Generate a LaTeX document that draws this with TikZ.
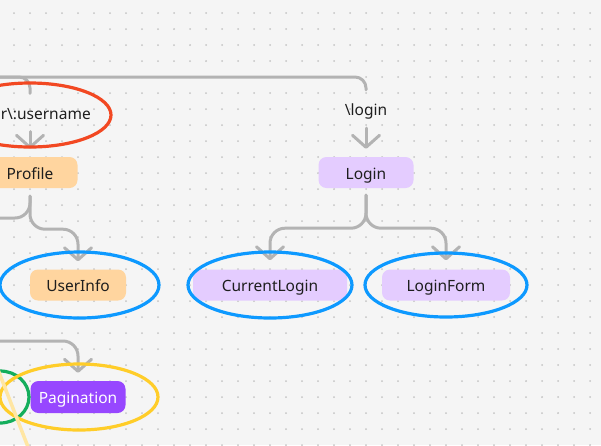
\documentclass[tikz,border=0pt]{standalone}
\usepackage{fontspec}
\setmainfont{Noto Sans}
\usetikzlibrary{arrows.meta,calc}

\definecolor{paper}{HTML}{F5F5F5}
\definecolor{griddot}{HTML}{C4C4C4}
\definecolor{wire}{HTML}{B3B3B3}
\definecolor{ink}{HTML}{1E1E1E}
\definecolor{peach}{HTML}{FFD59F}
\definecolor{lilac}{HTML}{E4CCFF}
\definecolor{violet}{HTML}{9747FF}
\definecolor{ringred}{HTML}{F24822}
\definecolor{ringblue}{HTML}{0D99FF}
\definecolor{ringyellow}{HTML}{FFCD29}
\definecolor{ringgreen}{HTML}{14AE5C}
\definecolor{paleyellow}{HTML}{FFE6A3}

\tikzset{
	label text/.style = {text=ink, font=\fontsize{15.5}{18}\selectfont, text height=13pt, text depth=0pt},
	comp/.style = {label text, rounded corners=8pt, minimum width=95pt, minimum height=31pt, inner sep=0pt},
	route/.style = {label text, minimum height=38pt, inner sep=0pt},
	link/.style = {draw=wire, line width=3pt, line cap=round, rounded corners=15pt},
	arrowed/.style = {-{Straight Barb[length=12pt, width=27pt, round]}},
	ring/.style = {line width=3.2pt},
}

\begin{document}
\begin{tikzpicture}[x=1pt, y=-1pt]
		\fill[paper] (0,0) rectangle (601,445);
		\useasboundingbox (0,0) rectangle (601,445);
		\clip (0,0) rectangle (601,445);
		
		\foreach \i in {0,...,36}
			\foreach \j in {0,...,27}
				\fill[griddot] (14+16*\i, 13+16*\j) circle (1pt);
		
		\coordinate (trunk) at (-10,77);
		\coordinate (exitleft) at (-10,218);
		\coordinate (exitpag) at (-10,341);
		
		\node[route] (user-route) at (30,112.5) {\textbackslash user\textbackslash :username};
		\node[route] (login-route) at (366,109) {\textbackslash login};
		
		\node[comp, fill=peach] (profile) at (30,172.5) {Profile};
		\node[comp, fill=lilac] (login) at (366,172.5) {Login};
		\node[comp, fill=peach, minimum width=96pt] (userinfo) at (78,285) {UserInfo};
		\node[comp, fill=lilac, minimum width=154pt] (currentlogin) at (270,285) {CurrentLogin};
		\node[comp, fill=lilac, minimum width=128pt] (loginform) at (446,285) {LoginForm};
		\node[comp, fill=violet, text=white, minimum height=32pt] (pagination) at (78,397) {Pagination};
		
		\draw[link, rounded corners=11pt] (trunk) -| (user-route.north);
		\draw[link, rounded corners=11pt] (trunk) -| (login-route.north);
		\draw[link, arrowed, shorten >=8pt] (user-route.south) -- (profile.north);
		\draw[link, arrowed, shorten >=8pt] (login-route.south) -- (login.north);
		
		\draw[link, shorten <=8pt] (profile.south) |- (exitleft);
		\draw[link, arrowed, shorten <=8pt, shorten >=8pt] (profile.south) -- ++(0,41) -| (userinfo.north);
		\draw[link, arrowed, shorten <=7pt, shorten >=9pt] (login.south) -- ++(0,40) -| (currentlogin.north);
		\draw[link, arrowed, shorten <=7pt, shorten >=9pt] (login.south) -- ++(0,40) -| (loginform.north);
		\draw[link, arrowed, shorten >=8pt] (exitpag) -| (pagination.north);
		
		\draw[ring, ringred] (30,115) ellipse [x radius=81pt, y radius=32pt];
		\draw[ring, ringblue] (79.5,285) ellipse [x radius=79.5pt, y radius=33pt];
		\draw[ring, ringblue] (currentlogin) ellipse [x radius=82pt, y radius=33pt];
		\draw[ring, ringblue] (loginform) ellipse [x radius=81pt, y radius=32pt];
		\draw[ring, ringgreen] (0,397) ellipse [x radius=29pt, y radius=26pt];
		\draw[ring, ringyellow] (79,397) ellipse [x radius=79pt, y radius=33pt];
		\draw[paleyellow, line width=3.5pt] (-5,362) -- (30,452);
	\end{tikzpicture}
\end{document}
